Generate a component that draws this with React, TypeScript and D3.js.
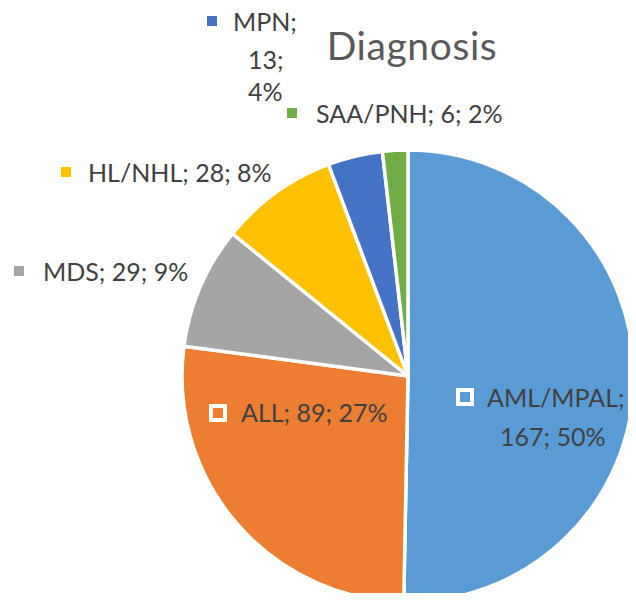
import React from 'react'
import { pie, arc, sum } from 'd3'

const categories = ['AML/MPAL', 'ALL', 'MDS', 'HL/NHL', 'MPN', 'SAA/PNH']
const counts = [167, 89, 29, 28, 13, 6]
const colors = ['#5B9BD5', '#ED7D31', '#A5A5A5', '#FFC000', '#4472C4', '#70AD47']

// label layout: key square position, text lines
const labelLayout = [
  { kx: 456, ky: 388, ks: 18, hollow: true, lines: [[487, 398], [500, 437]], split: 1 },
  { kx: 209, ky: 404, ks: 18, hollow: true, lines: [[241, 413]], split: 0 },
  { kx: 14, ky: 266, ks: 10, hollow: false, lines: [[43, 272]], split: 0 },
  { kx: 61, ky: 167, ks: 10, hollow: false, lines: [[88, 173]], split: 0 },
  { kx: 207, ky: 16, ks: 10, hollow: false, lines: [[233, 22], [248, 60], [248, 92]], split: 2 },
  { kx: 287, ky: 108, ks: 10, hollow: false, lines: [[316, 114]], split: 0 },
]

export default function App() {
  const width = 636
  const height = 601
  const cx = 408
  const cy = 376
  const r = 226
  const total = sum(counts)

  const pieGen = pie<number>().sort(null).value(d => d)
  const arcs = pieGen(counts)
  const arcGen = arc<any>().innerRadius(0).outerRadius(r)

  const font = 'Lato, "Open Sans", sans-serif'

  return (
    <div style={{ margin: -8 }}>
      <svg width={width} height={height} style={{ display: 'block', background: '#fff' }}>
        <g transform={`translate(${cx},${cy})`}>
          {arcs.map((a, i) => (
            <path key={i} d={arcGen(a) as string} fill={colors[i]} stroke="#fff" strokeWidth={3.5} strokeLinejoin="round" />
          ))}
        </g>
        <text x={412} y={46} dy="0.35em" textAnchor="middle" fontFamily={font} fontSize={39} fill="#595959" letterSpacing={0.6}>Diagnosis</text>
        {categories.map((c, i) => {
          const L = labelLayout[i]
          const pct = Math.round((counts[i] / total) * 100) + '%'
          let parts: string[]
          if (L.split === 1) parts = [`${c};`, `${counts[i]}; ${pct}`]
          else if (L.split === 2) parts = [`${c};`, `${counts[i]};`, pct]
          else parts = [`${c}; ${counts[i]}; ${pct}`]
          return (
            <g key={c}>
              {L.hollow ? (
                <rect x={L.kx + 2} y={L.ky + 2} width={L.ks - 4} height={L.ks - 4} fill={colors[i]} stroke="#fff" strokeWidth={4} />
              ) : (
                <rect x={L.kx} y={L.ky} width={L.ks} height={L.ks} fill={colors[i]} />
              )}
              {parts.map((p, j) => (
                <text key={j} x={L.lines[j][0]} y={L.lines[j][1]} dy="0.35em" fontFamily={font} fontSize={25} fill="#404040">{p}</text>
              ))}
            </g>
          )
        })}
      </svg>
    </div>
  )
}
